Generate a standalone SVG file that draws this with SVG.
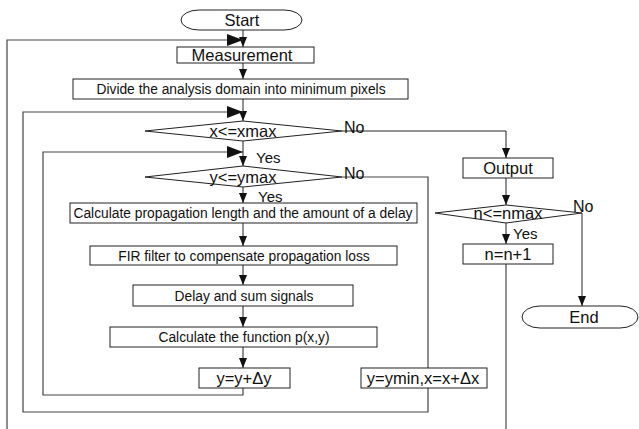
<svg xmlns="http://www.w3.org/2000/svg" width="639" height="429" viewBox="0 0 639 429">
<style>
.box{fill:#fff;stroke:#222;stroke-width:1}
.ln{fill:none;stroke:#222;stroke-width:1}
.lp{fill:none;stroke:#444;stroke-width:1.2}
text{font-family:"Liberation Sans",Arial,sans-serif;fill:#111}
.t{font-size:16.5px;text-anchor:middle}
.s{font-size:13.8px;text-anchor:middle}
.lb{font-size:16px}
.yes{font-size:15px}
</style>
<defs>
<marker id="a" markerUnits="userSpaceOnUse" markerWidth="10" markerHeight="8" refX="10" refY="4" orient="auto"><path d="M0,0 L10,4 L0,8 z" fill="#111"/></marker>
<marker id="b" markerUnits="userSpaceOnUse" markerWidth="16" markerHeight="12" refX="16" refY="6" orient="auto"><path d="M0,0 L16,6 L0,12 z" fill="#111"/></marker>
</defs>
<g id="connectors">
<line class="ln" x1="243" y1="30" x2="243" y2="47" marker-end="url(#a)"/>
<polyline class="lp" points="7,429 7,40 243,40" marker-end="url(#b)"/>
<line class="ln" x1="243" y1="63" x2="243" y2="79" marker-end="url(#a)"/>
<line class="ln" x1="243" y1="99" x2="243" y2="121" marker-end="url(#a)"/>
<polyline class="lp" points="342,177 428,177 428,412 23,412 23,112 243,112" marker-end="url(#b)"/>
<polyline class="ln" points="342,131 506,131 506,158" marker-end="url(#a)"/>
<line class="ln" x1="243" y1="141" x2="243" y2="166" marker-end="url(#a)"/>
<polyline class="lp" points="243,388 243,395 43,395 43,152 243,152" marker-end="url(#b)"/>
<line class="ln" x1="243" y1="187" x2="243" y2="203" marker-end="url(#a)"/>
<line class="ln" x1="243" y1="223" x2="243" y2="246" marker-end="url(#a)"/>
<line class="ln" x1="243" y1="265" x2="243" y2="285" marker-end="url(#a)"/>
<line class="ln" x1="243" y1="306" x2="243" y2="327" marker-end="url(#a)"/>
<line class="ln" x1="243" y1="347" x2="243" y2="368" marker-end="url(#a)"/>
<line class="ln" x1="506" y1="178" x2="506" y2="205" marker-end="url(#a)"/>
<polyline class="ln" points="582,213 582,306" marker-end="url(#a)"/>
<line class="ln" x1="506" y1="223" x2="506" y2="244" marker-end="url(#a)"/>
<line class="ln" x1="506" y1="264" x2="506" y2="429"/>
</g>
<g id="start"><rect class="box" x="181" y="10" width="121" height="20" rx="18" ry="10"/><text class="t" x="242" y="26">Start</text></g>
<g id="measurement"><rect class="box" x="177" y="47" width="137" height="16"/><text class="t" x="242" y="61">Measurement</text></g>
<g id="divide"><rect class="box" x="73" y="79" width="335" height="20"/><text class="s" x="241" y="94">Divide the analysis domain into minimum pixels</text></g>
<g id="xcond"><polygon class="box" points="145,131 243,121 342,131 243,141"/><text class="t" x="243" y="137">x&lt;=xmax</text></g>
<g id="ycond"><polygon class="box" points="145,177 243,166 342,177 243,187"/><text class="t" x="243" y="183">y&lt;=ymax</text></g>
<g id="calc"><rect class="box" x="70" y="203" width="347" height="20"/><text class="s" x="243" y="218">Calculate propagation length and the amount of a delay</text></g>
<g id="fir"><rect class="box" x="90" y="246" width="307" height="19"/><text class="s" x="244" y="261">FIR filter to compensate propagation loss</text></g>
<g id="delay"><rect class="box" x="133" y="285" width="220" height="21"/><text class="s" x="244" y="301">Delay and sum signals</text></g>
<g id="func"><rect class="box" x="110" y="327" width="267" height="20"/><text class="s" x="244" y="342">Calculate the function p(x,y)</text></g>
<g id="yinc"><rect class="box" x="199" y="368" width="91" height="20"/><text class="t" x="244" y="384">y=y+Δy</text></g>
<g id="ymin"><rect class="box" x="361" y="368" width="126" height="20"/><text class="t" x="423" y="384">y=ymin,x=x+Δx</text></g>
<g id="output"><rect class="box" x="463" y="158" width="90" height="20"/><text class="t" x="508" y="174">Output</text></g>
<g id="ncond"><polygon class="box" points="435,213 506,205 582,213 506,223"/><text class="t" x="508" y="219">n&lt;=nmax</text></g>
<g id="ninc"><rect class="box" x="463" y="244" width="90" height="20"/><text class="t" x="508" y="260">n=n+1</text></g>
<g id="end"><rect class="box" x="522" y="306" width="116" height="22" rx="18" ry="11"/><text class="t" x="584" y="323">End</text></g>
<g id="labels">
<text class="lb" x="344" y="133">No</text>
<text class="lb" x="344" y="179">No</text>
<text class="lb" x="573" y="212">No</text>
<text class="yes" x="256" y="163">Yes</text>
<text class="yes" x="258" y="202">Yes</text>
<text class="yes" x="513" y="239">Yes</text>
</g>
</svg>
